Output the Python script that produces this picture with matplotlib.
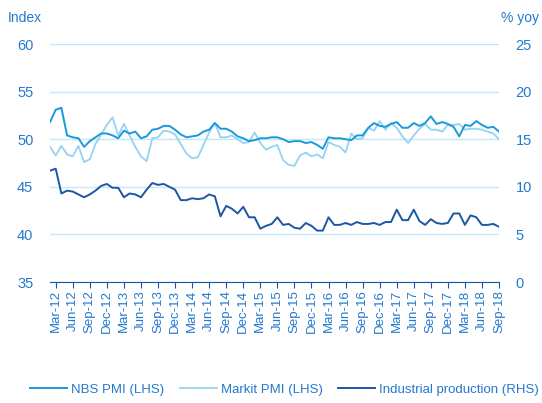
import matplotlib.pyplot as plt

plt.rcParams['font.family'] = ['Liberation Sans', 'DejaVu Sans']

# monthly data, Feb-12 to Sep-18
nbs_pmi = [51.8, 53.1, 53.3, 50.4, 50.2, 50.1, 49.2, 49.8, 50.2, 50.6, 50.6,
           50.4, 50.1, 50.9, 50.6, 50.8, 50.1, 50.3, 51.0, 51.1, 51.4, 51.4, 51.0,
           50.5, 50.2, 50.3, 50.4, 50.8, 51.0, 51.7, 51.1, 51.1, 50.8, 50.3, 50.1,
           49.8, 49.9, 50.1, 50.1, 50.2, 50.2, 50.0, 49.7, 49.8, 49.8, 49.6, 49.7,
           49.4, 49.0, 50.2, 50.1, 50.1, 50.0, 49.9, 50.4, 50.4, 51.2, 51.7, 51.4,
           51.3, 51.6, 51.8, 51.2, 51.2, 51.7, 51.4, 51.7, 52.4, 51.6, 51.8, 51.6,
           51.3, 50.3, 51.5, 51.4, 51.9, 51.5, 51.2, 51.3, 50.8]
markit_pmi = [49.2, 48.3, 49.3, 48.4, 48.2, 49.3, 47.6, 47.9, 49.5, 50.5, 51.5,
              52.3, 50.4, 51.6, 50.4, 49.2, 48.2, 47.7, 50.1, 50.2, 50.9, 50.8, 50.5,
              49.5, 48.5, 48.0, 48.1, 49.4, 50.7, 51.7, 50.2, 50.2, 50.4, 50.0, 49.6,
              49.7, 50.7, 49.6, 48.9, 49.2, 49.4, 47.8, 47.3, 47.2, 48.3, 48.6, 48.2,
              48.4, 48.0, 49.7, 49.4, 49.2, 48.6, 50.6, 50.0, 50.1, 51.2, 50.9, 51.9,
              51.0, 51.7, 51.2, 50.3, 49.6, 50.4, 51.1, 51.6, 51.0, 51.0, 50.8, 51.5,
              51.5, 51.6, 51.0, 51.1, 51.1, 51.0, 50.8, 50.6, 50.0]
ind_prod = [11.7, 11.9, 9.3, 9.6, 9.5, 9.2, 8.9, 9.2, 9.6, 10.1, 10.3,
            9.9, 9.9, 8.9, 9.3, 9.2, 8.9, 9.7, 10.4, 10.2, 10.3, 10.0, 9.7,
            8.6, 8.6, 8.8, 8.7, 8.8, 9.2, 9.0, 6.9, 8.0, 7.7, 7.2, 7.9,
            6.8, 6.8, 5.6, 5.9, 6.1, 6.8, 6.0, 6.1, 5.7, 5.6, 6.2, 5.9,
            5.4, 5.4, 6.8, 6.0, 6.0, 6.2, 6.0, 6.3, 6.1, 6.1, 6.2, 6.0,
            6.3, 6.3, 7.6, 6.5, 6.5, 7.6, 6.4, 6.0, 6.6, 6.2, 6.1, 6.2,
            7.2, 7.2, 6.0, 7.0, 6.8, 6.0, 6.0, 6.1, 5.8]

tick_labels = ['Mar-12', 'Jun-12', 'Sep-12', 'Dec-12', 'Mar-13', 'Jun-13', 'Sep-13',
               'Dec-13', 'Mar-14', 'Jun-14', 'Sep-14', 'Dec-14', 'Mar-15', 'Jun-15',
               'Sep-15', 'Dec-15', 'Mar-16', 'Jun-16', 'Sep-16', 'Dec-16', 'Mar-17',
               'Jun-17', 'Sep-17', 'Dec-17', 'Mar-18', 'Jun-18', 'Sep-18']

c_nbs = '#1a9ad9'
c_markit = '#93d3f3'
c_ip = '#1d56a6'
c_text = '#2479cf'
c_grid = '#c4e8f8'

x = list(range(len(nbs_pmi)))

fig = plt.figure(figsize=(5.42, 4.03), dpi=100)
ax = fig.add_axes([0.0923, 0.3002, 0.8284, 0.5906])
ax2 = ax.twinx()

ax.plot(x, markit_pmi, color=c_markit, lw=1.3, label='Markit PMI (LHS)')
ax.plot(x, nbs_pmi, color=c_nbs, lw=1.4, label='NBS PMI (LHS)')
ax2.plot(x, ind_prod, color=c_ip, lw=1.4, label='Industrial production (RHS)')

ax.set_ylim(35, 60)
ax.set_yticks([35, 40, 45, 50, 55, 60])
ax2.set_ylim(0, 25)
ax2.set_yticks([0, 5, 10, 15, 20, 25])
ax.set_xlim(0, len(x) - 1)
ax.grid(axis='y', color=c_grid, lw=1)
ax.set_axisbelow(True)

ax.set_xticks(range(1, len(x), 3))
ax.set_xticklabels(tick_labels, rotation=90, fontsize=9.5, color=c_text)
ax.tick_params(axis='x', length=4, color=c_ip, pad=2)
ax.tick_params(axis='y', length=0, labelsize=10.5, labelcolor=c_text, pad=12)
ax2.tick_params(axis='y', length=0, labelsize=10.5, labelcolor=c_text, pad=12)

for a in (ax, ax2):
    for s in ['top', 'left', 'right']:
        a.spines[s].set_visible(False)
ax.spines['bottom'].set_color(c_ip)
ax2.spines['bottom'].set_visible(False)

fig.text(0.015, 0.955, 'Index', fontsize=10, color=c_text, ha='left', va='center')
fig.text(0.995, 0.955, '% yoy', fontsize=10, color=c_text, ha='right', va='center')

handles = [ax.lines[1], ax.lines[0], ax2.lines[0]]
fig.legend(handles, [h.get_label() for h in handles], loc='center',
           bbox_to_anchor=(0.525, 0.033), ncol=3, frameon=False, fontsize=9.5,
           labelcolor=c_text, handlelength=2.8, columnspacing=1.2, handletextpad=0.3)

fig.savefig('out.png', dpi=100)
